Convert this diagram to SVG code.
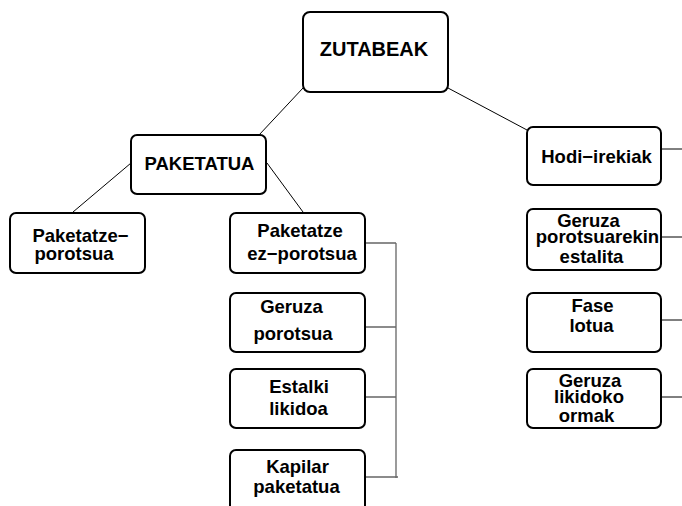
<svg xmlns="http://www.w3.org/2000/svg" width="682" height="506" viewBox="0 0 682 506">
<style>
.box{fill:#fff;stroke:#000;stroke-width:2}
.t{font-family:"Liberation Sans",Arial,sans-serif;font-weight:bold;font-size:18.5px;fill:#000;text-anchor:middle}
.c{stroke:#000;stroke-width:1;fill:none}
.g{stroke:#666;stroke-width:1.3;fill:none}
</style>
<rect width="682" height="506" fill="#fff"/>
<g id="connectors">
<line class="c" x1="303" y1="88" x2="259" y2="135"/>
<line class="c" x1="448" y1="88" x2="527" y2="130"/>
<line class="c" x1="131" y1="163" x2="73" y2="212"/>
<line class="c" x1="267" y1="163" x2="303" y2="212"/>
<path class="g" d="M365,243H396M365,327H396M365,397H396M365,477H398M396,243V478"/>
<path class="c" d="M661,149H682M661,237H682M661,320H682M661,397H682"/>
</g>
<g id="zutabeak"><rect class="box" x="303" y="12" width="145" height="80" rx="7"/><text class="t" x="374" y="56" style="font-size:20px">ZUTABEAK</text></g>
<g id="paketatua"><rect class="box" x="131" y="135" width="135" height="59" rx="6"/><text class="t" x="199.5" y="170">PAKETATUA</text></g>
<g id="paketatze-porotsua"><rect class="box" x="10" y="213" width="135" height="60" rx="6"/><text class="t" x="80.5" y="242">Paketatze−</text><text class="t" x="74" y="260">porotsua</text></g>
<g id="paketatze-ez-porotsua"><rect class="box" x="230" y="213" width="135" height="60" rx="6"/><text class="t" x="300" y="237">Paketatze</text><text class="t" x="302" y="260">ez−porotsua</text></g>
<g id="geruza-porotsua"><rect class="box" x="230" y="293" width="135" height="59" rx="6"/><text class="t" x="291.5" y="313">Geruza</text><text class="t" x="293" y="340">porotsua</text></g>
<g id="estalki-likidoa"><rect class="box" x="230" y="369" width="135" height="59" rx="6"/><text class="t" x="299" y="393">Estalki</text><text class="t" x="298.5" y="415">likidoa</text></g>
<g id="kapilar-paketatua"><rect class="box" x="230" y="450" width="135" height="70" rx="6"/><text class="t" x="297.5" y="473">Kapilar</text><text class="t" x="296.5" y="493">paketatua</text></g>
<g id="hodi-irekiak"><rect class="box" x="527" y="127" width="134" height="58" rx="6"/><text class="t" x="596.5" y="163">Hodi−irekiak</text></g>
<g id="geruza-porotsuarekin"><rect class="box" x="527" y="209" width="134" height="61" rx="6"/><text class="t" x="588.5" y="227">Geruza</text><text class="t" x="597.5" y="243">porotsuarekin</text><text class="t" x="591.5" y="263">estalita</text></g>
<g id="fase-lotua"><rect class="box" x="527" y="293" width="134" height="59" rx="6"/><text class="t" x="592.5" y="312">Fase</text><text class="t" x="591.5" y="332">lotua</text></g>
<g id="geruza-likidoko"><rect class="box" x="527" y="369" width="134" height="59" rx="6"/><text class="t" x="590" y="387">Geruza</text><text class="t" x="589" y="403">likidoko</text><text class="t" x="586.5" y="422">ormak</text></g>
</svg>
